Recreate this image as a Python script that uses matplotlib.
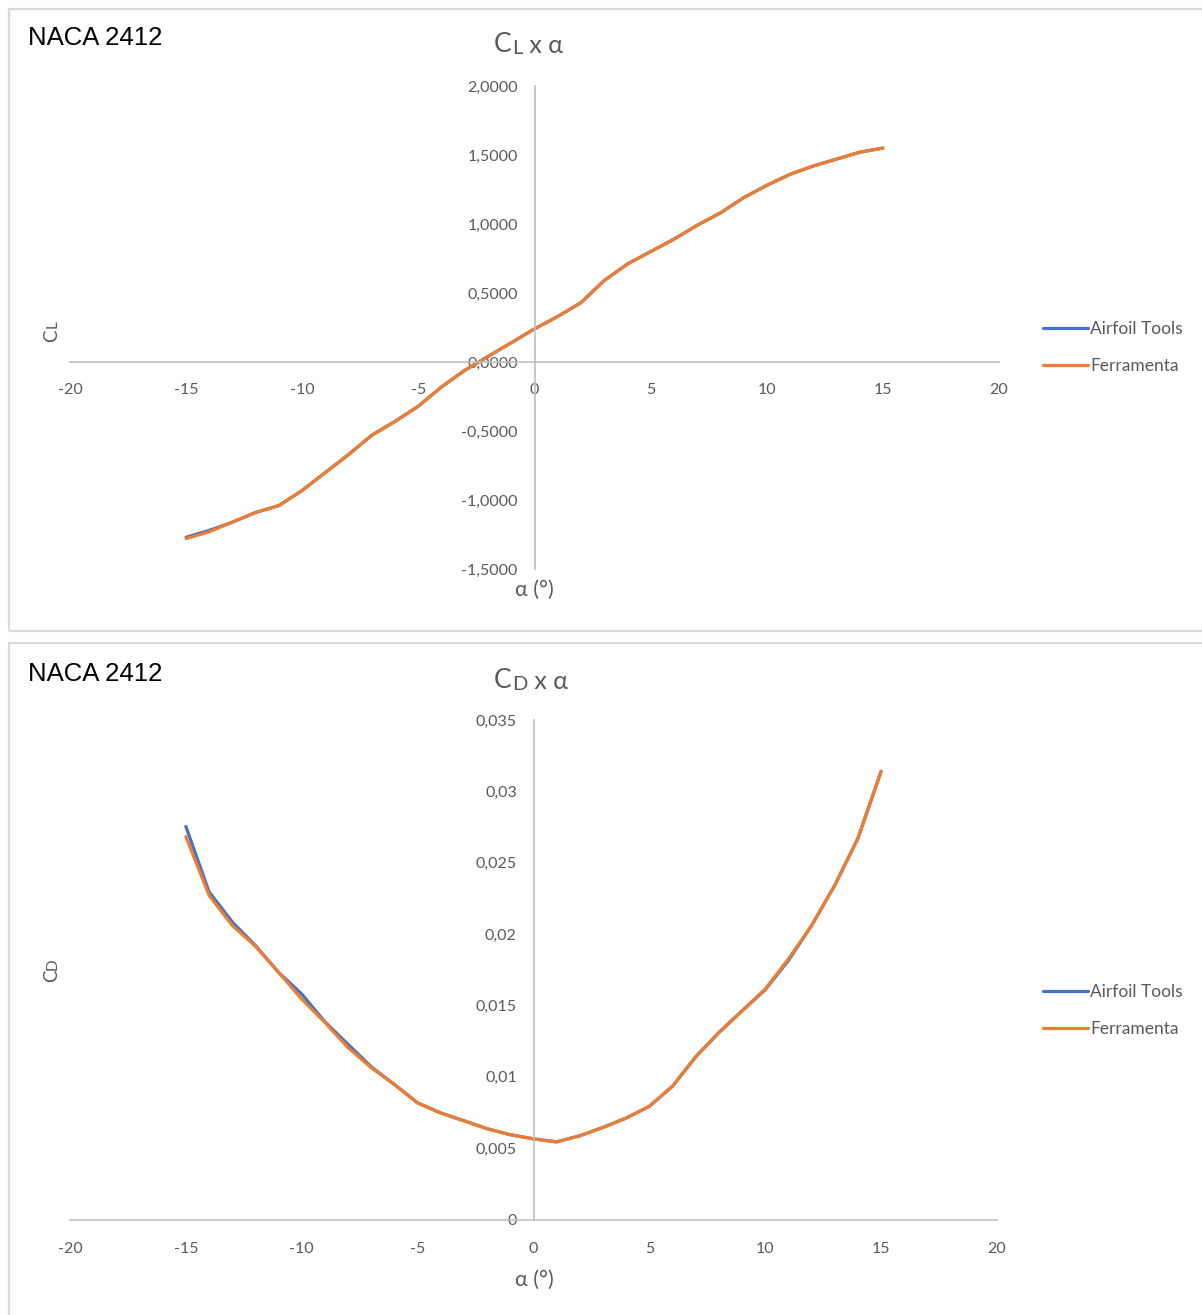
import matplotlib
matplotlib.use("Agg")
import matplotlib.pyplot as plt
from matplotlib.patches import Rectangle
from matplotlib.ticker import FuncFormatter

# ---------------- data ----------------
alpha = [-15, -14, -13, -12, -11, -10, -9, -8, -7, -6, -5, -4, -3, -2, -1,
         0, 1, 2, 3, 4, 5, 6, 7, 8, 9, 10, 11, 12, 13, 14, 15]

cl_airfoil = [-1.27, -1.22, -1.16, -1.09, -1.04, -0.93, -0.80, -0.67, -0.53, -0.43,
              -0.32, -0.18, -0.06, 0.04, 0.14, 0.24, 0.33, 0.43, 0.59, 0.71,
              0.80, 0.89, 0.99, 1.08, 1.19, 1.28, 1.36, 1.42, 1.47, 1.52, 1.55]
cl_ferramenta = [-1.28, -1.23, -1.16, -1.09, -1.04, -0.93, -0.80, -0.67, -0.53, -0.43,
                 -0.32, -0.18, -0.06, 0.04, 0.14, 0.24, 0.33, 0.43, 0.59, 0.71,
                 0.80, 0.89, 0.99, 1.08, 1.19, 1.28, 1.36, 1.42, 1.47, 1.52, 1.55]

cd_airfoil = [0.02754, 0.02296, 0.02085, 0.01920, 0.01732, 0.01580, 0.01385, 0.01227,
              0.01070, 0.00946, 0.00817, 0.00746, 0.00692, 0.00636, 0.00594, 0.00565,
              0.00544, 0.00587, 0.00645, 0.00711, 0.00793, 0.00934, 0.01140, 0.01310,
              0.01462, 0.01610, 0.01815, 0.02060, 0.02342, 0.02671, 0.03141]
cd_ferramenta = [0.02683, 0.02272, 0.02060, 0.01915, 0.01732, 0.01544, 0.01380, 0.01204,
                 0.01063, 0.00946, 0.00817, 0.00746, 0.00692, 0.00636, 0.00594, 0.00565,
                 0.00544, 0.00587, 0.00645, 0.00711, 0.00793, 0.00934, 0.01140, 0.01310,
                 0.01462, 0.01615, 0.01826, 0.02060, 0.02342, 0.02671, 0.03141]

x_ticks = [-20, -15, -10, -5, 0, 5, 10, 15, 20]
cl_ticks = [-1.5, -1.0, -0.5, 0.0, 0.5, 1.0, 1.5, 2.0]
cd_ticks = [0, 0.005, 0.01, 0.015, 0.02, 0.025, 0.03, 0.035]
series_names = ["Airfoil Tools", "Ferramenta"]
chart_label = "NACA 2412"

# ---------------- style ----------------
W, H = 1202, 1315
BLUE = "#4472C4"
ORANGE = "#ED7D31"
GRAY_TXT = "#595959"
AXIS_GRAY = "#BFBFBF"
FONT = "Lato"

fig = plt.figure(figsize=(W / 100, H / 100), dpi=100)


def fx(px):
    return px / W


def fy(py):
    return 1 - py / H


# panel borders
for top, bottom in [(9, 631), (643, 1320)]:
    fig.patches.append(Rectangle((fx(8.5), fy(bottom)), fx(1210) - fx(8.5),
                                 fy(top) - fy(bottom), transform=fig.transFigure,
                                 fill=False, edgecolor="#D9D9D9", linewidth=1.6))


def comma_fmt(decimals):
    def f(v, pos):
        if decimals is None:
            s = ("%g" % v)
        else:
            s = f"{v:.{decimals}f}"
        return s.replace(".", ",")
    return FuncFormatter(f)


def style_axes(ax):
    for s in ["top", "right"]:
        ax.spines[s].set_visible(False)
    for s in ["left", "bottom"]:
        ax.spines[s].set_color(AXIS_GRAY)
        ax.spines[s].set_linewidth(1.2)
    ax.tick_params(length=0, colors=GRAY_TXT, labelsize=11.5)
    for lab in ax.get_xticklabels() + ax.get_yticklabels():
        lab.set_fontfamily(FONT)
    ax.set_facecolor("none")


# ---------------- top chart: CL ----------------
ax1 = fig.add_axes([fx(70), fy(569), fx(999) - fx(70), fy(86) - fy(569)])
ax1.plot(alpha, cl_airfoil, color=BLUE, lw=2.3, label=series_names[0],
         solid_capstyle="round")
ax1.plot(alpha, cl_ferramenta, color=ORANGE, lw=2.3, label=series_names[1],
         solid_capstyle="round")
ax1.set_xlim(-20, 20)
ax1.set_ylim(-1.5, 2.0)
ax1.set_xticks(x_ticks)
ax1.set_yticks(cl_ticks)
ax1.spines["left"].set_position(("data", 0))
ax1.spines["bottom"].set_position(("data", 0))
ax1.xaxis.set_major_formatter(comma_fmt(None))
ax1.yaxis.set_major_formatter(comma_fmt(4))
style_axes(ax1)
ax1.tick_params(axis="x", pad=15)
ax1.tick_params(axis="y", pad=12)

# ---------------- bottom chart: CD ----------------
ax2 = fig.add_axes([fx(70), fy(1219.5), fx(997) - fx(70), fy(720) - fy(1219.5)])
ax2.plot(alpha, cd_airfoil, color=BLUE, lw=2.3, label=series_names[0],
         solid_capstyle="round")
ax2.plot(alpha, cd_ferramenta, color=ORANGE, lw=2.3, label=series_names[1],
         solid_capstyle="round")
ax2.set_xlim(-20, 20)
ax2.set_ylim(0, 0.035)
ax2.set_xticks(x_ticks)
ax2.set_yticks(cd_ticks)
ax2.spines["left"].set_position(("data", 0))
ax2.spines["bottom"].set_position(("data", 0))
ax2.xaxis.set_major_formatter(comma_fmt(None))
ax2.yaxis.set_major_formatter(comma_fmt(None))
style_axes(ax2)
ax2.tick_params(axis="x", pad=16)
ax2.tick_params(axis="y", pad=12)

# ---------------- texts ----------------
for ypx in (38, 674):
    fig.text(fx(28), fy(ypx), chart_label, fontsize=18.5, color="black",
             family="Liberation Sans", ha="left", va="center")

# titles with small-caps look: big "C", smaller subscript-letter, then " x α"
for ypx, sub in ((52, "L"), (688, "D")):
    t1 = fig.text(fx(494), fy(ypx), "C", fontsize=19, color=GRAY_TXT,
                  family=FONT, ha="left", va="baseline")
    t2 = ax1.annotate(sub, xy=(1, 0), xycoords=t1, xytext=(0.5, 0),
                      textcoords="offset points", fontsize=14.5, color=GRAY_TXT,
                      family=FONT, ha="left", va="bottom", annotation_clip=False)
    ax1.annotate(" x α", xy=(1, 0), xycoords=t2, xytext=(0, 0),
                 textcoords="offset points", fontsize=18, color=GRAY_TXT,
                 family=FONT, ha="left", va="bottom", annotation_clip=False)

# y axis labels (rotated, small caps look)
for ycen, sub in ((330, "L"), (970, "D")):
    fig.text(fx(52), fy(ycen + 6), "C", fontsize=13.5, color=GRAY_TXT,
             family=FONT, rotation=90, ha="center", va="center")
    fig.text(fx(53), fy(ycen - 6), sub, fontsize=11, color=GRAY_TXT,
             family=FONT, rotation=90, ha="center", va="center")

# x axis labels
fig.text(fx(534), fy(590), "α (°)", fontsize=15.5, color=GRAY_TXT, family=FONT,
         ha="center", va="center")
fig.text(fx(534), fy(1280), "α (°)", fontsize=15.5, color=GRAY_TXT, family=FONT,
         ha="center", va="center")

# legends
for ax, ycen in ((ax1, 347.5), (ax2, 1010.5)):
    leg = ax.legend(loc="center left", bbox_to_anchor=(fx(1027), fy(ycen)),
                    bbox_transform=fig.transFigure, frameon=False,
                    handlelength=2.6, handletextpad=0.15, labelspacing=1.25,
                    prop={"family": FONT, "size": 12.5})
    for t in leg.get_texts():
        t.set_color(GRAY_TXT)

fig.savefig("out.png", dpi=100)
